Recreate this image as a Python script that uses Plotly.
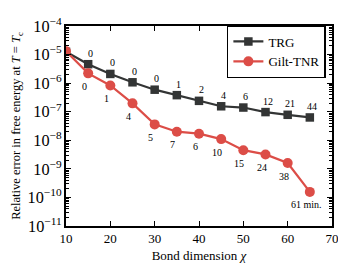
import math
import plotly.graph_objects as go

chi = [10, 15, 20, 25, 30, 35, 40, 45, 50, 55, 60, 65]
trg_err = [1.25e-5, 4.6e-6, 2.1e-6, 1.07e-6, 5.9e-7, 3.8e-7, 2.4e-7, 1.55e-7, 1.4e-7, 9.7e-8, 7.8e-8, 6.3e-8]
gilt_err = [1.3e-5, 2.2e-6, 8.3e-7, 1.96e-7, 3.6e-8, 2.0e-8, 1.7e-8, 1.1e-8, 4.5e-9, 3.2e-9, 1.6e-9, 1.56e-10]
trg_labels = ["", "0", "0", "0", "0", "1", "2", "4", "6", "12", "21", "44"]
gilt_labels = ["", "0", "1", "4", "5", "7", "6", "10", "15", "24", "38", "61 min."]

dark = "#333535"
red = "#dc4d47"
font = "Liberation Serif"

fig = go.Figure()
fig.add_trace(go.Scatter(x=chi, y=trg_err, mode="lines+markers", name="TRG",
                         line=dict(color=dark, width=2.2),
                         marker=dict(symbol="square", size=8.5, color=dark)))
fig.add_trace(go.Scatter(x=chi, y=gilt_err, mode="lines+markers", name="Gilt-TNR",
                         line=dict(color=red, width=2.2),
                         marker=dict(symbol="circle", size=10, color=red)))

for x, y, t in zip(chi, trg_err, trg_labels):
    if t:
        fig.add_annotation(x=x, y=math.log10(y), text=t, showarrow=False,
                           xshift=2, yshift=11, font=dict(size=10, color="black", family=font))
for x, y, t in zip(chi, gilt_err, gilt_labels):
    if t:
        xs = -4 if t != "61 min." else -3
        fig.add_annotation(x=x, y=math.log10(y), text=t, showarrow=False,
                           xshift=xs, yshift=-13, font=dict(size=10, color="black", family=font))

axis_common = dict(showline=True, linecolor="black", linewidth=1.5, mirror="allticks",
                   ticks="inside", tickcolor="black", showgrid=False, zeroline=False,
                   ticklabeloverflow="allow",
                   tickfont=dict(size=13, family=font, color="black"))

fig.update_xaxes(range=[10, 70], dtick=10, tick0=10, ticklen=5, tickwidth=1,
                 title=dict(text="Bond dimension <i>χ</i>", font=dict(size=13, family=font, color="black"),
                            standoff=6),
                 **axis_common)
fig.update_yaxes(type="log", range=[-11, -4], dtick=1, exponentformat="power", showexponent="all",
                 ticklen=5, tickwidth=1,
                 minor=dict(ticks="inside", ticklen=3, tickcolor="black", dtick="D1", showgrid=False),
                 title=dict(text="Relative error in free energy at <i>T</i> = <i>T</i><sub>c</sub>",
                            font=dict(size=12.5, family=font, color="black"), standoff=4),
                 **axis_common)

# page has an 8px body margin, so shift the figure accordingly
fig.update_layout(width=338, height=260, margin=dict(l=57, r=8, t=7, b=40),
                  plot_bgcolor="white", paper_bgcolor="white",
                  font=dict(family=font, color="black"),
                  legend=dict(x=0.977, y=1.005, xanchor="right", yanchor="top",
                              bgcolor="white", bordercolor="black", borderwidth=1.5,
                              font=dict(size=13, family=font, color="black"),
                              tracegroupgap=0))

fig.write_html("out.html")
